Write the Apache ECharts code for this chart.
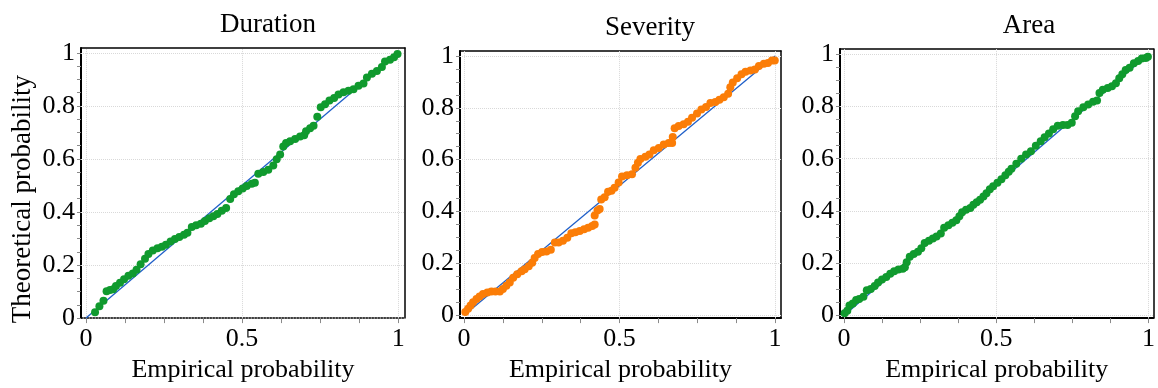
<!DOCTYPE html>
<html>
<head>
<meta charset="utf-8">
<script src="https://cdn.jsdelivr.net/npm/echarts@6/dist/echarts.min.js"></script>
<style>
html, body { margin: 0; padding: 0; background: #fff; }
#chart { width: 1158px; height: 388px; }
</style>
</head>
<body>
<div id="chart"></div>
<script>
// empirical vs theoretical probability
const durationPoints = [
	[0.029, 0.022], [0.043, 0.045], [0.056, 0.065], [0.066, 0.101], [0.077, 0.106], [0.087, 0.109], [0.096, 0.121],
	[0.109, 0.133], [0.122, 0.146], [0.136, 0.160], [0.150, 0.168], [0.162, 0.182], [0.175, 0.203], [0.189, 0.224],
	[0.200, 0.242], [0.214, 0.255], [0.229, 0.263], [0.243, 0.269], [0.256, 0.276], [0.271, 0.289], [0.285, 0.298],
	[0.299, 0.306], [0.314, 0.314], [0.325, 0.322], [0.339, 0.343], [0.353, 0.350], [0.368, 0.356], [0.381, 0.366],
	[0.395, 0.376], [0.408, 0.384], [0.421, 0.392], [0.435, 0.405], [0.449, 0.415], [0.462, 0.449], [0.474, 0.467],
	[0.488, 0.478], [0.502, 0.488], [0.515, 0.498], [0.531, 0.506], [0.541, 0.510], [0.552, 0.544], [0.568, 0.551],
	[0.584, 0.559], [0.600, 0.575], [0.611, 0.599], [0.622, 0.617], [0.632, 0.647], [0.641, 0.660], [0.654, 0.667],
	[0.670, 0.675], [0.686, 0.684], [0.699, 0.689], [0.705, 0.704], [0.718, 0.716], [0.729, 0.725], [0.741, 0.759],
	[0.752, 0.795], [0.766, 0.806], [0.780, 0.820], [0.795, 0.830], [0.809, 0.843], [0.825, 0.851], [0.841, 0.857],
	[0.857, 0.863], [0.873, 0.876], [0.889, 0.884], [0.900, 0.907], [0.916, 0.921], [0.932, 0.931], [0.948, 0.946],
	[0.958, 0.967], [0.974, 0.974], [0.987, 0.983], [0.998, 0.995]
];

const severityPoints = [
	[0.004, 0.013], [0.013, 0.025], [0.021, 0.038], [0.029, 0.050], [0.040, 0.063], [0.050, 0.072], [0.061, 0.082],
	[0.075, 0.088], [0.088, 0.092], [0.101, 0.092], [0.115, 0.092], [0.125, 0.101], [0.136, 0.114], [0.147, 0.126],
	[0.158, 0.145], [0.171, 0.158], [0.185, 0.170], [0.195, 0.177], [0.208, 0.189], [0.219, 0.202], [0.227, 0.221],
	[0.238, 0.236], [0.251, 0.244], [0.265, 0.246], [0.279, 0.253], [0.292, 0.281], [0.304, 0.281], [0.318, 0.287],
	[0.332, 0.299], [0.345, 0.316], [0.358, 0.320], [0.372, 0.325], [0.386, 0.332], [0.399, 0.337], [0.412, 0.344],
	[0.420, 0.350], [0.420, 0.385], [0.429, 0.404], [0.436, 0.410], [0.441, 0.446], [0.452, 0.455], [0.463, 0.476],
	[0.474, 0.480], [0.484, 0.492], [0.497, 0.512], [0.508, 0.535], [0.524, 0.540], [0.540, 0.544], [0.551, 0.569],
	[0.559, 0.588], [0.567, 0.603], [0.583, 0.611], [0.596, 0.620], [0.610, 0.636], [0.626, 0.645], [0.642, 0.658],
	[0.658, 0.664], [0.669, 0.664], [0.671, 0.687], [0.677, 0.721], [0.690, 0.730], [0.706, 0.737], [0.720, 0.746],
	[0.733, 0.762], [0.749, 0.778], [0.763, 0.793], [0.778, 0.803], [0.792, 0.818], [0.808, 0.822], [0.821, 0.831],
	[0.835, 0.841], [0.849, 0.854], [0.856, 0.879], [0.864, 0.898], [0.878, 0.914], [0.892, 0.929], [0.905, 0.939],
	[0.921, 0.944], [0.935, 0.948], [0.948, 0.961], [0.964, 0.970], [0.977, 0.973], [0.990, 0.982], [0.999, 0.982]
];

const areaPoints = [
	[0.002, 0.009], [0.011, 0.018], [0.018, 0.038], [0.029, 0.046], [0.040, 0.059], [0.050, 0.063], [0.064, 0.072],
	[0.075, 0.097], [0.088, 0.101], [0.101, 0.113], [0.112, 0.126], [0.125, 0.138], [0.139, 0.147], [0.152, 0.160],
	[0.165, 0.169], [0.179, 0.176], [0.193, 0.179], [0.200, 0.185], [0.206, 0.204], [0.216, 0.225], [0.229, 0.235],
	[0.243, 0.244], [0.254, 0.257], [0.265, 0.277], [0.279, 0.286], [0.292, 0.295], [0.304, 0.302], [0.318, 0.314],
	[0.329, 0.336], [0.343, 0.345], [0.356, 0.355], [0.369, 0.365], [0.379, 0.380], [0.388, 0.395], [0.401, 0.405],
	[0.415, 0.411], [0.425, 0.424], [0.436, 0.433], [0.447, 0.443], [0.458, 0.455], [0.468, 0.468], [0.479, 0.483],
	[0.490, 0.495], [0.504, 0.508], [0.517, 0.521], [0.530, 0.537], [0.541, 0.550], [0.550, 0.562], [0.566, 0.581],
	[0.582, 0.600], [0.598, 0.616], [0.614, 0.629], [0.630, 0.650], [0.646, 0.667], [0.659, 0.682], [0.673, 0.697],
	[0.687, 0.713], [0.702, 0.726], [0.719, 0.729], [0.734, 0.729], [0.748, 0.738], [0.759, 0.763], [0.769, 0.782],
	[0.786, 0.797], [0.802, 0.808], [0.818, 0.818], [0.831, 0.823], [0.839, 0.852], [0.850, 0.864], [0.866, 0.871],
	[0.880, 0.877], [0.893, 0.889], [0.904, 0.908], [0.914, 0.923], [0.925, 0.940], [0.938, 0.948], [0.952, 0.965],
	[0.966, 0.974], [0.978, 0.984], [0.991, 0.986], [0.998, 0.990]
];

const diagonal = [[0, 0], [1, 1]];
const panelTitles = ["Duration", "Severity", "Area"];
const xLabelValues = [0, 0.5, 1];
const yLabelValues = [0, 0.2, 0.4, 0.6, 0.8, 1];
const xTickValues = [0, 0.125, 0.25, 0.375, 0.5, 0.625, 0.75, 0.875, 1];
const yTickValues = [0, 0.05, 0.1, 0.15, 0.2, 0.25, 0.3, 0.35, 0.4, 0.45, 0.5, 0.55, 0.6, 0.65, 0.7, 0.75, 0.8, 0.85, 0.9, 0.95, 1];

const colors = {
	ink: "#000000",
	tick: "#8a8a8a",
	grid: "#d9d9d9",
	green: "#109a2e",
	orange: "#fb7d07",
	blue: "#1f5fc8"
};

const font = "'Liberation Serif', 'Times New Roman', serif";

const panels = [
	{ grid: { left: 81, top: 48, width: 324, height: 276 }, x: [-0.016, 1.022], y: [0, 1.018], points: durationPoints, color: colors.green, dottedBottom: true, titleX: 268, titleTop: 11 },
	{ grid: { left: 460, top: 51, width: 321, height: 272 }, x: [-0.013, 1.019], y: [-0.011, 1.019], points: severityPoints, color: colors.orange, dottedBottom: false, titleX: 650, titleTop: 14 },
	{ grid: { left: 840, top: 49, width: 320, height: 273 }, x: [-0.013, 1.016], y: [-0.010, 1.020], points: areaPoints, color: colors.green, dottedBottom: false, titleX: 1029, titleTop: 12 }
];

const frameLine = width => ({ show: true, onZero: false, lineStyle: { color: colors.ink, width } });
const labelText = { color: colors.ink, fontFamily: font, fontSize: 26 };

const option = {
	animation: false,
	title: panels.map((p, i) => ({
		text: panelTitles[i],
		left: p.titleX,
		top: p.titleTop,
		textAlign: "center",
		padding: 0,
		textStyle: { ...labelText, fontSize: 27, fontWeight: "normal" }
	})),
	grid: panels.map(p => ({ ...p.grid, containLabel: false })),
	xAxis: panels.flatMap((p, i) => [
		{
			gridIndex: i,
			type: "value",
			position: "bottom",
			min: p.x[0],
			max: p.x[1],
			axisLine: { show: true, onZero: false, lineStyle: { color: colors.ink, width: p.dottedBottom ? 1.5 : 2, type: p.dottedBottom ? "dotted" : "solid" } },
			axisTick: { show: true, customValues: xTickValues, length: 5, lineStyle: { color: colors.tick, width: 1 } },
			axisLabel: { customValues: xLabelValues, margin: 8, ...labelText },
			splitLine: { show: false },
			name: "Empirical probability",
			nameLocation: "middle",
			nameGap: 28,
			nameTextStyle: labelText
		},
		{
			gridIndex: i,
			type: "value",
			position: "top",
			min: p.x[0],
			max: p.x[1],
			axisLine: frameLine(1.5),
			axisTick: { show: false },
			axisLabel: { show: false },
			splitLine: { show: false }
		}
	]),
	yAxis: panels.flatMap((p, i) => [
		{
			gridIndex: i,
			type: "value",
			position: "left",
			min: p.y[0],
			max: p.y[1],
			axisLine: frameLine(2),
			axisTick: { show: true, customValues: yTickValues, length: 4, lineStyle: { color: colors.tick, width: 1 } },
			axisLabel: { customValues: yLabelValues, margin: 6, ...labelText },
			splitLine: { show: false },
			name: i === 0 ? "Theoretical probability" : "",
			nameLocation: "middle",
			nameGap: 45,
			nameTextStyle: { ...labelText, fontSize: 27, padding: [0, 32, 0, 0] }
		},
		{
			gridIndex: i,
			type: "value",
			position: "right",
			min: p.y[0],
			max: p.y[1],
			axisLine: frameLine(1.5),
			axisTick: { show: false },
			axisLabel: { show: false },
			splitLine: { show: false }
		}
	]),
	series: panels.flatMap((p, i) => [
		{
			type: "line",
			xAxisIndex: i * 2,
			yAxisIndex: i * 2,
			data: diagonal,
			showSymbol: false,
			symbol: "none",
			lineStyle: { color: colors.blue, width: 1.3 },
			z: 2,
			markLine: {
				silent: true,
				z: 1,
				symbol: "none",
				label: { show: false },
				lineStyle: { color: colors.grid, type: "dotted", width: 1 },
				data: [
					...xLabelValues.map(v => ({ xAxis: v })),
					...yLabelValues.filter(v => v > p.y[0]).map(v => ({ yAxis: v }))
				]
			}
		},
		{
			type: "scatter",
			xAxisIndex: i * 2,
			yAxisIndex: i * 2,
			data: p.points,
			symbolSize: 8,
			itemStyle: { color: p.color, opacity: 1 },
			z: 3
		}
	])
};

const chart = echarts.init(document.getElementById("chart"), null, { renderer: "canvas" });
chart.setOption(option);
</script>
</body>
</html>
